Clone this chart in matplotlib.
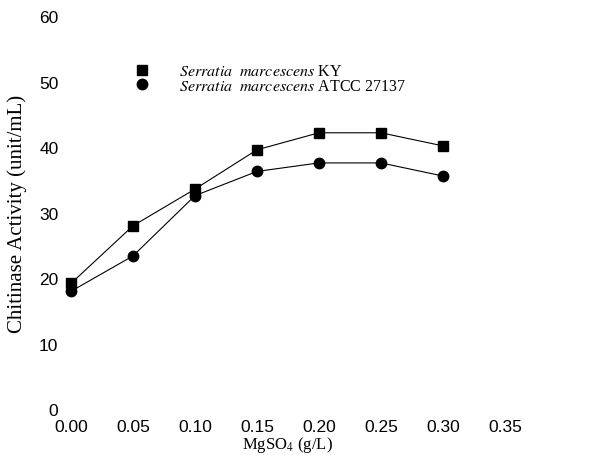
import matplotlib
matplotlib.use("Agg")
import matplotlib.pyplot as plt
from matplotlib.lines import Line2D

plt.rcParams['mathtext.fontset'] = 'stix'

mgso4 = [0.00, 0.05, 0.10, 0.15, 0.20, 0.25, 0.30]
ky = [19.2, 28.0, 33.6, 39.6, 42.2, 42.2, 40.2]
atcc = [18.0, 23.4, 32.6, 36.3, 37.6, 37.6, 35.6]
labels = [r"$\mathit{Serratia\ \ marcescens}$ KY",
          r"$\mathit{Serratia\ \ marcescens}$ ATCC 27137"]
xticks = [0.00, 0.05, 0.10, 0.15, 0.20, 0.25, 0.30, 0.35]
yticks = [0, 10, 20, 30, 40, 50, 60]

fig = plt.figure(figsize=(6.12, 4.77), dpi=100)
ax = fig.add_axes([0.116, 0.140, 0.709, 0.824])

ax.plot(mgso4, ky, color='black', lw=0.8, marker='s', ms=7, clip_on=False)
ax.plot(mgso4, atcc, color='black', lw=0.8, marker='o', ms=7.5, clip_on=False)

ax.set_xlim(0, 0.35)
ax.set_ylim(0, 60)
ax.set_xticks(xticks)
ax.set_yticks(yticks)
ax.set_xticklabels(['%.2f' % v for v in xticks], family='Liberation Sans', fontsize=12.5)
ax.set_yticklabels([str(v) for v in yticks], family='Liberation Sans', fontsize=12.5)
ax.tick_params(length=0)
ax.tick_params(axis='x', pad=7)
ax.tick_params(axis='y', pad=9)
for s in ax.spines.values():
    s.set_visible(False)

ax.set_xlabel(r"MgSO$_4$ (g/L)", family='Liberation Serif', fontsize=12, labelpad=0)
ax.set_ylabel("Chitinase Activity (unit/mL)", family='Liberation Serif', fontsize=15, labelpad=9)

handles = [Line2D([], [], color='black', marker='s', ms=7, ls='none'),
           Line2D([], [], color='black', marker='o', ms=7.5, ls='none')]
leg = ax.legend(handles, labels, loc='upper left', bbox_to_anchor=(0.112, 0.917),
                frameon=False, handlelength=1, handletextpad=1.8, labelspacing=-0.08,
                prop={'family': 'Liberation Serif', 'size': 11.5})

fig.savefig('out.png', dpi=100)
